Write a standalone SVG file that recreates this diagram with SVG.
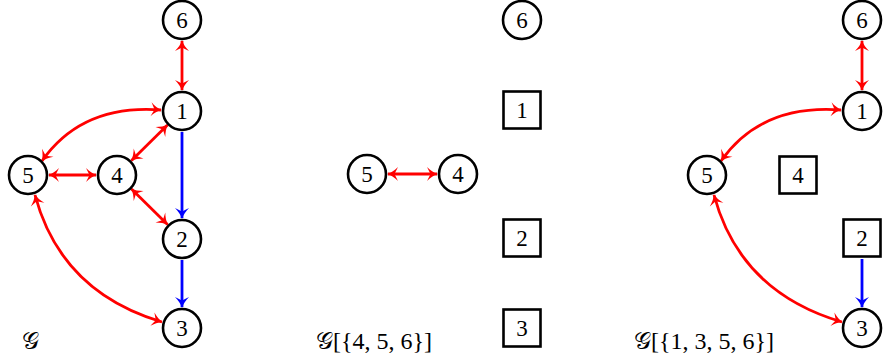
<svg xmlns="http://www.w3.org/2000/svg" width="884" height="360" viewBox="0 0 884 360">
<style>
.n circle, .n rect { fill: #fff; stroke: #000; stroke-width: 2.6; }
.n text, .lbl { font-family: "Liberation Serif", "DejaVu Serif", serif; font-size: 23px; fill: #000; }
.n text { text-anchor: middle; }
.lbl { font-size: 24px; }
.r { fill: none; stroke: #ff0000; stroke-width: 2.8; marker-start: url(#ar); marker-end: url(#ar); }
.b { fill: none; stroke: #0000ff; stroke-width: 2.8; marker-end: url(#ab); }
</style>
<defs>
<marker id="ar" markerUnits="userSpaceOnUse" markerWidth="16" markerHeight="16" refX="0" refY="0" viewBox="-12 -8 14 16" orient="auto-start-reverse" overflow="visible">
<path d="M1,0 C-3,-1 -7,-4 -10,-7 L-6.5,0 L-10,7 C-7,4 -3,1 1,0 Z" fill="#ff0000"/>
</marker>
<marker id="ab" markerUnits="userSpaceOnUse" markerWidth="16" markerHeight="16" refX="0" refY="0" viewBox="-12 -8 14 16" orient="auto" overflow="visible">
<path d="M1,0 C-3,-1 -7,-4 -10,-7 L-6.5,0 L-10,7 C-7,4 -3,1 1,0 Z" fill="#0000ff"/>
</marker>
</defs>

<g id="connectors">
<line class="r" x1="182" y1="41" x2="182" y2="90"/>
<line class="b" x1="182" y1="132" x2="182" y2="218"/>
<line class="b" x1="182" y1="260" x2="182" y2="307"/>
<line class="r" x1="131.5" y1="160.5" x2="167.5" y2="125"/>
<line class="r" x1="131.5" y1="189" x2="167.5" y2="224.5"/>
<line class="r" x1="49" y1="175" x2="96" y2="175"/>
<path class="r" d="M42,161 Q82,104 161,110"/>
<path class="r" d="M35,195 Q61,292 162,322"/>
<line class="r" x1="388" y1="174" x2="437" y2="174"/>
<line class="r" x1="862" y1="41" x2="862" y2="90"/>
<path class="r" d="M721,161 Q761,104 841,110"/>
<path class="r" d="M714,195 Q740,292 842,322"/>
<line class="b" x1="862" y1="259" x2="862" y2="307"/>
</g>

<g id="p1n6" class="n"><circle cx="182" cy="20" r="19"/><text x="182" y="28">6</text></g>
<g id="p1n1" class="n"><circle cx="182" cy="111" r="19"/><text x="182" y="119">1</text></g>
<g id="p1n5" class="n"><circle cx="28" cy="175" r="19"/><text x="28" y="183">5</text></g>
<g id="p1n4" class="n"><circle cx="117" cy="175" r="19"/><text x="117" y="183">4</text></g>
<g id="p1n2" class="n"><circle cx="182" cy="239" r="19"/><text x="182" y="247">2</text></g>
<g id="p1n3" class="n"><circle cx="182" cy="328" r="19"/><text x="182" y="336">3</text></g>
<text class="lbl" x="22" y="349">𝒢</text>

<g id="p2n6" class="n"><circle cx="522" cy="20" r="19"/><text x="522" y="28">6</text></g>
<g id="p2n1" class="n"><rect x="503.5" y="91.5" width="37" height="37"/><text x="522" y="118">1</text></g>
<g id="p2n5" class="n"><circle cx="367" cy="174" r="19"/><text x="367" y="182">5</text></g>
<g id="p2n4" class="n"><circle cx="458" cy="174" r="19"/><text x="458" y="182">4</text></g>
<g id="p2n2" class="n"><rect x="503.5" y="219.5" width="37" height="37"/><text x="522" y="246">2</text></g>
<g id="p2n3" class="n"><rect x="503.5" y="309.5" width="37" height="37"/><text x="522" y="336">3</text></g>
<text class="lbl" x="316" y="349">𝒢[{4, 5, 6}]</text>

<g id="p3n6" class="n"><circle cx="862" cy="20" r="19"/><text x="862" y="28">6</text></g>
<g id="p3n1" class="n"><circle cx="862" cy="111" r="19"/><text x="862" y="119">1</text></g>
<g id="p3n5" class="n"><circle cx="707" cy="175" r="19"/><text x="707" y="183">5</text></g>
<g id="p3n4" class="n"><rect x="779.5" y="156.5" width="37" height="37"/><text x="798" y="183">4</text></g>
<g id="p3n2" class="n"><rect x="843.5" y="219.5" width="37" height="37"/><text x="862" y="246">2</text></g>
<g id="p3n3" class="n"><circle cx="862" cy="328" r="19"/><text x="862" y="336">3</text></g>
<text class="lbl" x="634" y="349">𝒢[{1, 3, 5, 6}]</text>
</svg>
